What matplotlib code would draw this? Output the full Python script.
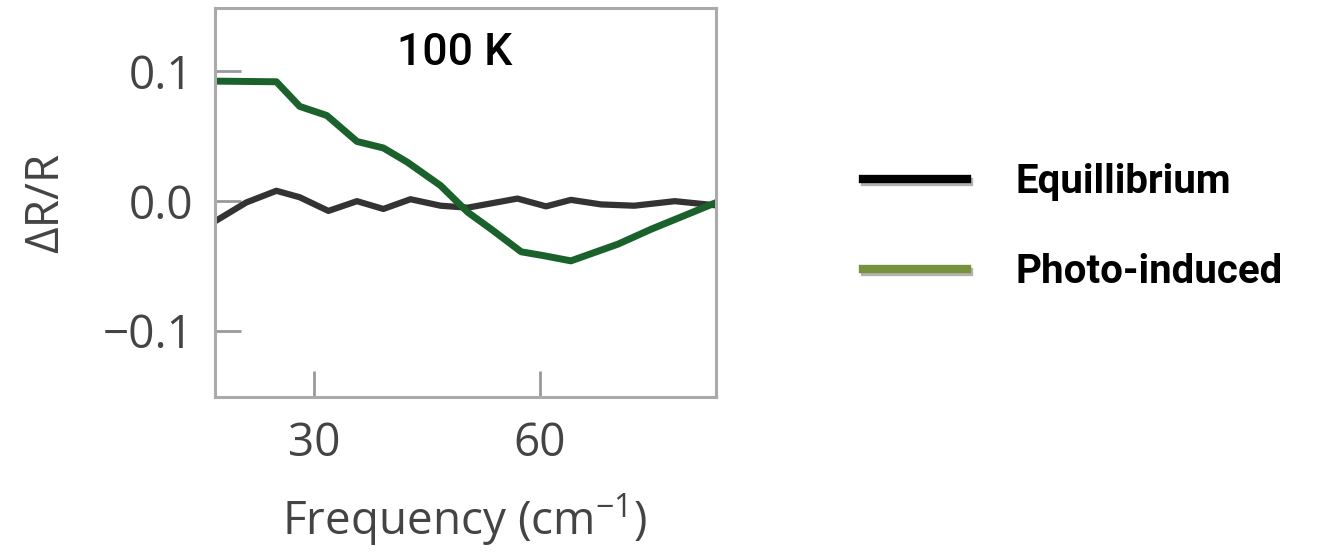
import numpy as np
import matplotlib
matplotlib.use('Agg')
import matplotlib.pyplot as plt
import matplotlib.patheffects as pe
from matplotlib.lines import Line2D

# data
freq_eq = [17.0, 21.0, 25.0, 28.1, 31.9, 35.7, 39.2, 42.8, 46.8, 50.4, 57.0, 60.8, 64.1, 68.1, 72.5, 77.9, 83.0]
dr_eq = [-0.015, -0.001, 0.008, 0.003, -0.0075, 0.000, -0.006, 0.0015, -0.0035, -0.005, 0.002, -0.004, 0.001, -0.0025, -0.0035, 0.000, -0.003]

freq_ph = [16.8, 25.0, 28.1, 31.7, 35.7, 39.2, 42.4, 46.8, 50.4, 53.5, 57.5, 60.5, 64.1, 70.4, 74.8, 83.0]
dr_ph = [0.0925, 0.092, 0.073, 0.066, 0.046, 0.041, 0.030, 0.012, -0.0085, -0.0215, -0.039, -0.042, -0.046, -0.033, -0.0215, -0.002]

xticks = [30, 60]
yticks = [-0.1, 0.0, 0.1]
ytick_labels = ['\u22120.1', '0.0', '0.1']
labels = ['Equillibrium', 'Photo-induced']

plt.rcParams['font.family'] = ['Open Sans', 'DejaVu Sans']
plt.rcParams['mathtext.fontset'] = 'custom'
plt.rcParams['mathtext.rm'] = 'Open Sans'

fig = plt.figure(figsize=(13.25, 5.57), dpi=100)
ax = fig.add_axes([0.162, 0.287, 0.378, 0.699])

ax.plot(freq_eq, dr_eq, color='#333333', lw=4.5, solid_joinstyle='round')
ax.plot(freq_ph, dr_ph, color='#1b612b', lw=5, solid_joinstyle='round')

ax.set_xlim(16.8, 83.3)
ax.set_ylim(-0.151, 0.149)
ax.set_xticks(xticks)
ax.set_yticks(yticks)
ax.set_yticklabels(ytick_labels)
ax.tick_params(direction='in', length=19, width=2, color='#999999',
               labelsize=33, labelcolor='#444444')
ax.tick_params(axis='x', pad=17)
ax.tick_params(axis='y', pad=15)
for s in ax.spines.values():
    s.set_color('#aaaaaa')
    s.set_linewidth(2.2)

ax.set_xlabel('Frequency (cm$^{-1}$)', fontsize=33, color='#444444', labelpad=18)
ax.set_ylabel('\u0394R/R', fontsize=33, color='#444444', labelpad=24)

ax.text(0.48, 0.885, '100 K', transform=ax.transAxes, ha='center', va='center',
        fontsize=32, fontweight='medium', family='Roboto', color='black')

shadow = [pe.SimpleLineShadow(offset=(1.5, -2), alpha=0.3), pe.Normal()]
handles = [Line2D([], [], color='black', lw=6, path_effects=shadow),
           Line2D([], [], color='#76923c', lw=6, path_effects=shadow)]
fig.legend(handles, labels, loc='center left', bbox_to_anchor=(0.651, 0.592),
           frameon=False, borderpad=0, borderaxespad=0, handlelength=2.6,
           handletextpad=1.2, labelspacing=1.3,
           prop={'family': 'Roboto', 'weight': 'bold', 'size': 29})

fig.savefig('out.png', dpi=100)
